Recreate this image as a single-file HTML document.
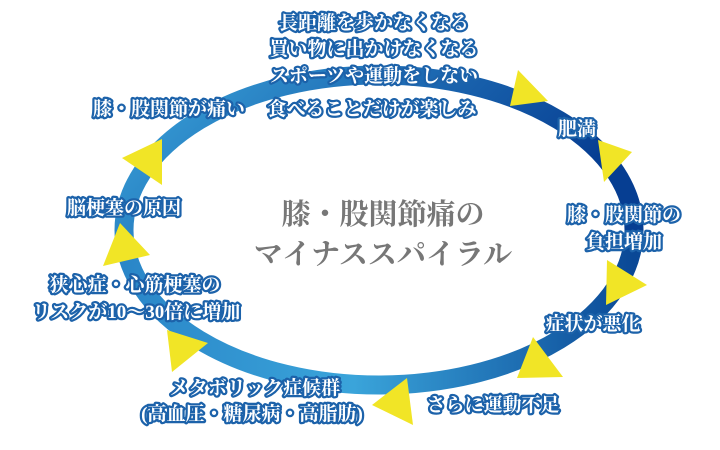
<!DOCTYPE html>
<html><head><meta charset="utf-8"><style>
html,body{margin:0;padding:0;background:#fff;width:720px;height:450px;overflow:hidden}
svg text{font-family:"Liberation Serif","Noto Serif CJK JP","Noto Serif CJK SC",serif;font-weight:bold}
.l{fill:#fff;stroke:#1c62aa;stroke-width:4.5;paint-order:stroke;stroke-linejoin:round;font-size:19px}
.c{fill:#777;font-weight:normal !important;font-size:29px}
</style></head><body>
<svg width="720" height="450" viewBox="0 0 720 450" xmlns="http://www.w3.org/2000/svg">
<defs>
<linearGradient id="g" x1="0" y1="0" x2="1" y2="0.3">
<stop offset="0" stop-color="#3ba6dc"/>
<stop offset="0.5" stop-color="#1f6db5"/>
<stop offset="1" stop-color="#063e92"/>
</linearGradient>
<linearGradient id="g2" x1="0" y1="0" x2="1" y2="0">
<stop offset="0" stop-color="#2a86c8"/>
<stop offset="0.45" stop-color="#3aa4da"/>
<stop offset="1" stop-color="#0a4896"/>
</linearGradient>
</defs>
<path d="M124,230 A255,155 0 0 1 634,230" fill="none" stroke="url(#g)" stroke-width="19"/>
<path d="M124,230 A255,155 0 0 0 634,230" fill="none" stroke="url(#g2)" stroke-width="19"/>
<g fill="#f1e526">
<polygon points="518,70 548,101 510,106"/>
<polygon points="598,140 632,152 604,182"/>
<polygon points="607,260 647,285 606,305"/>
<polygon points="533,337 563,377 517,378"/>
<polygon points="407,378 372,405 413,425"/>
<polygon points="162,139 122,158 162,185"/>
<polygon points="120,223 103,266 150,255"/>
<polygon points="167,330 208,343 172,372"/>
</g>
<g class="l" text-anchor="middle">
<text x="374" y="29">長距離を歩かなくなる</text>
<text x="374" y="55">買い物に出かけなくなる</text>
<text x="374" y="82">スポーツや運動をしない</text>
<text x="372" y="115">食べることだけが楽しみ</text>
<text x="169" y="115">膝・股関節が痛い</text>
<text x="577" y="135">肥満</text>
<text x="624" y="221">膝・股関節の</text>
<text x="624" y="248">負担増加</text>
<text x="124" y="214">脳梗塞の原因</text>
<text x="135" y="291">狭心症・心筋梗塞の</text>
<text x="136" y="318">リスクが10～30倍に増加</text>
<text x="593" y="330">症状が悪化</text>
<text x="255" y="394">メタボリック症候群</text>
<text x="252" y="420">(高血圧・糖尿病・高脂肪)</text>
<text x="493" y="411">さらに運動不足</text>
</g>
<g class="c" text-anchor="middle">
<text x="383" y="224">膝・股関節痛の</text>
<text x="383" y="264">マイナススパイラル</text>
</g>
</svg>
</body></html>
